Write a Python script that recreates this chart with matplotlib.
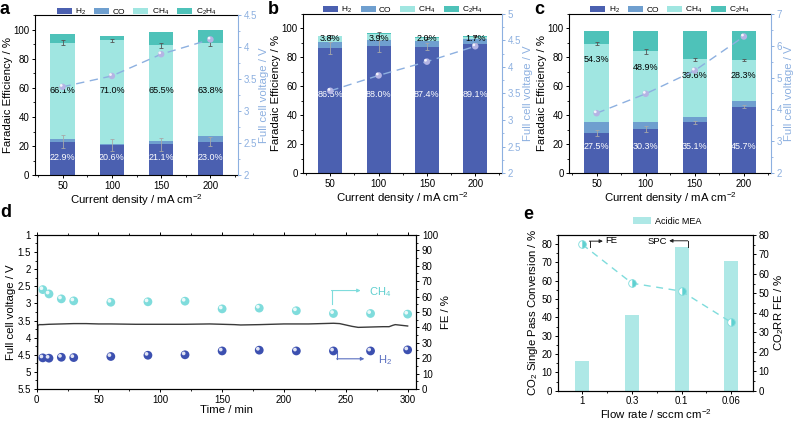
#!/usr/bin/env python
# -*- coding: utf-8 -*-

import matplotlib
matplotlib.use("Agg")
from matplotlib import pyplot as plt
from matplotlib import transforms
from matplotlib.ticker import MultipleLocator, FuncFormatter

plt.rcParams['font.family'] = ['Liberation Sans', 'DejaVu Sans']
plt.rcParams['mathtext.fontset'] = 'custom'
plt.rcParams['mathtext.rm'] = 'Liberation Sans'
plt.rcParams['mathtext.it'] = 'Liberation Sans:italic'
plt.rcParams['mathtext.bf'] = 'Liberation Sans:bold'
plt.rcParams['mathtext.default'] = 'rm'

# ---- panels a-c: FE vs current density
current = [50, 100, 150, 200]

a_h2 = [22.9, 20.6, 21.1, 23.0]
a_co = [1.9, 1.0, 2.6, 4.0]
a_ch4 = [66.1, 71.0, 65.5, 63.8]
a_c2h4 = [5.9, 3.0, 8.9, 8.7]
a_h2_err = [4.5, 4.2, 4.2, 3.0]
a_ch4_err = [1.7, 1.0, 1.5, 2.0]
a_volt = [3.38, 3.55, 3.89, 4.12]

b_h2 = [86.5, 88.0, 87.4, 89.1]
b_co = [4.2, 4.1, 4.0, 3.5]
b_ch4 = [3.8, 3.9, 2.0, 1.7]
b_c2h4 = [0.5, 0.6, 0.4, 0.3]
b_h2_err = [4.3, 4.0, 2.3, 1.0]
b_ch4_err = [1.2, 1.2, 0.8, 0.6]
b_volt = [3.55, 3.84, 4.10, 4.39]

c_h2 = [27.5, 30.3, 35.1, 45.7]
c_co = [7.7, 4.9, 3.8, 4.1]
c_ch4 = [54.3, 48.9, 39.6, 28.3]
c_c2h4 = [8.4, 13.8, 19.4, 19.8]
c_h2_err = [2.2, 2.2, 1.2, 1.0]
c_ch4_err = [1.0, 1.5, 0.8, 0.6]
c_volt = [3.88, 4.49, 5.22, 6.29]

# ---- panel d: stability
d_time = [0, 0.5, 1, 2, 5, 10, 20, 30, 40, 50, 60, 80, 100, 120, 140, 160, 165,
          180, 200, 220, 240, 245, 250, 255, 260, 270, 280, 285, 288, 290, 295, 300]
d_volt = [5.5, 5.2, 3.65, 3.62, 3.62, 3.61, 3.6, 3.59, 3.59, 3.6, 3.6, 3.61, 3.61,
          3.61, 3.6, 3.62, 3.63, 3.62, 3.6, 3.6, 3.58, 3.59, 3.63, 3.67, 3.7, 3.69,
          3.68, 3.68, 3.64, 3.62, 3.64, 3.66]
d_time_fe = [5, 10, 20, 30, 60, 90, 120, 150, 180, 210, 240, 270, 300]
d_ch4_fe = [64.5, 61.7, 58.5, 57.2, 56.3, 56.6, 57.0, 52.0, 52.5, 50.8, 49.0, 49.0, 48.6]
d_h2_fe = [20.2, 20.0, 20.6, 20.4, 21.1, 21.9, 22.2, 24.7, 25.2, 24.7, 24.7, 24.7, 25.4]

# ---- panel e: flow rate
e_flow = ['1', '0.3', '0.1', '0.06']
e_spc = [16.1, 41.3, 78.2, 70.7]
e_fe = [75.1, 55.2, 51.1, 35.1]

C_H2 = '#4b60b0'
C_CO = '#6f9fcf'
C_CH4 = '#a0e6e1'
C_C2H4 = '#4ec2b9'
C_V = '#8db0e0'
C_SPH = '#b4b4e4'

TICK = 7
LAB = 8.2

fig = plt.figure(figsize=(7.96, 4.21), dpi=100)


def style_ticks(ax):
    ax.tick_params(labelsize=TICK, length=2.5, width=0.7, pad=1.5)
    ax.tick_params(which='minor', length=1.5, width=0.6)


def spheres(ax, x, y, color, size, z=5):
    ax.scatter(x, y, s=size, color=color, edgecolors='none', zorder=z, clip_on=False)
    off = transforms.offset_copy(ax.transData, fig=fig, x=-1.0, y=1.0, units='points')
    ax.scatter(x, y, s=size * 0.18, color='white', alpha=0.85, edgecolors='none',
               transform=off, zorder=z + 0.1, clip_on=False)


def plot_fe(rect, h2, co, ch4, c2h4, h2_err, ch4_err, volt, vmax, vstep,
            ch4_lab_y, h2_lab_y, letter):
    ax = fig.add_axes(rect)
    b1 = [h + c for h, c in zip(h2, co)]
    b2 = [s + c for s, c in zip(b1, ch4)]
    w = 25
    ax.bar(current, h2, w, color=C_H2, label='H$_2$')
    ax.bar(current, co, w, bottom=h2, color=C_CO, label='CO')
    ax.bar(current, ch4, w, bottom=b1, color=C_CH4, label='CH$_4$')
    ax.bar(current, c2h4, w, bottom=b2, color=C_C2H4, label='C$_2$H$_4$')
    ax.errorbar(current, h2, yerr=h2_err, fmt='none', ecolor='#a8a8a8', elinewidth=0.6,
                capsize=1.5, capthick=0.6, zorder=4)
    ax.errorbar(current, b2, yerr=ch4_err, fmt='none', ecolor='#555555', elinewidth=0.6,
                capsize=1.5, capthick=0.6, zorder=4)
    for i, x in enumerate(current):
        ax.text(x, h2_lab_y, '%.1f%%' % h2[i], color='white', ha='center', va='center',
                fontsize=6.5, zorder=6)
        yy = ch4_lab_y[i] if isinstance(ch4_lab_y, list) else ch4_lab_y
        ax.text(x, yy, '%.1f%%' % ch4[i], color='black', ha='center', va='center',
                fontsize=6.5, zorder=6)
    ax.set_xlim(22, 228)
    ax.set_ylim(0, 110)
    ax.set_xticks(current)
    ax.xaxis.set_minor_locator(MultipleLocator(25))
    ax.yaxis.set_major_locator(MultipleLocator(20))
    ax.yaxis.set_minor_locator(MultipleLocator(10))
    style_ticks(ax)
    ax.set_xlabel('Current density / mA cm$^{-2}$', fontsize=LAB, labelpad=1)
    ax.set_ylabel('Faradaic Efficiency / %', fontsize=LAB, labelpad=0.5)
    for s in ax.spines.values():
        s.set_linewidth(0.8)
    ax.spines['right'].set_visible(False)
    ax.legend(loc='lower center', bbox_to_anchor=(0.5, 0.99), ncol=4, frameon=False,
              fontsize=6, handlelength=1.8, handleheight=0.75, handletextpad=0.4,
              columnspacing=1.0, borderpad=0, borderaxespad=0)

    ax2 = ax.twinx()
    ax2.plot(current, volt, ls=(0, (6, 4)), color=C_V, lw=1.0, zorder=3)
    spheres(ax2, current, volt, C_SPH, 22)
    ax2.set_ylim(2, vmax)
    ax2.yaxis.set_major_locator(MultipleLocator(vstep))
    ax2.yaxis.set_minor_locator(MultipleLocator(vstep / 2))
    for k in ['left', 'top', 'bottom']:
        ax2.spines[k].set_visible(False)
    ax2.spines['right'].set_color(C_V)
    ax2.spines['right'].set_linewidth(0.8)
    ax2.tick_params(axis='y', colors=C_V, labelsize=TICK, length=2.5, width=0.7, pad=1.5)
    ax2.tick_params(axis='y', which='minor', colors=C_V, length=1.5, width=0.6)
    ax2.yaxis.set_major_formatter(FuncFormatter(lambda v, p: '%g' % v))
    ax2.set_ylabel('Full cell voltage / V', fontsize=LAB, color=C_V, labelpad=1.5)
    fig.text(rect[0] - 0.044, 0.998, letter, fontsize=13, fontweight='bold', va='top')
    return ax


plot_fe([0.044, 0.584, 0.255, 0.380], a_h2, a_co, a_ch4, a_c2h4, a_h2_err, a_ch4_err,
        a_volt, 4.5, 0.5, 58, 12, 'a')
plot_fe([0.381, 0.589, 0.250, 0.378], b_h2, b_co, b_ch4, b_c2h4, b_h2_err, b_ch4_err,
        b_volt, 5, 0.5, 93, 54, 'b')
c_ch4_top = [h + c + m for h, c, m in zip(c_h2, c_co, c_ch4)]
plot_fe([0.715, 0.589, 0.254, 0.378], c_h2, c_co, c_ch4, c_c2h4, c_h2_err, c_ch4_err,
        c_volt, 7, 1, [t - 11 for t in c_ch4_top], 18.5, 'c')

# ---- panel d
axd = fig.add_axes([0.046, 0.076, 0.477, 0.366])
axd.plot(d_time, d_volt, color='#3a3a3a', lw=1.0)
axd.set_xlim(0, 307)
axd.set_ylim(5.5, 1)
axd.xaxis.set_major_locator(MultipleLocator(50))
axd.xaxis.set_minor_locator(MultipleLocator(25))
axd.yaxis.set_major_locator(MultipleLocator(0.5))
axd.yaxis.set_minor_locator(MultipleLocator(0.25))
axd.yaxis.set_major_formatter(FuncFormatter(lambda v, p: '%g' % v))
style_ticks(axd)
axd.tick_params(axis='x', top=True, which='both')
axd.set_xlabel('Time / min', fontsize=LAB, labelpad=0.5)
axd.set_ylabel('Full cell voltage / V', fontsize=LAB, labelpad=1)
for s in axd.spines.values():
    s.set_linewidth(0.8)

axd2 = axd.twinx()
spheres(axd2, d_time_fe, d_ch4_fe, '#7fdcdc', 40)
spheres(axd2, d_time_fe, d_h2_fe, '#3c50b0', 40)
axd2.set_ylim(0, 100)
axd2.yaxis.set_major_locator(MultipleLocator(10))
axd2.yaxis.set_minor_locator(MultipleLocator(5))
style_ticks(axd2)
axd2.set_ylabel('FE / %', fontsize=LAB, labelpad=2)
axd2.plot([238.8, 238.8], [55.3, 63.9], color='#7fdcdc', lw=0.8)
axd2.annotate('', xy=(262, 63.9), xytext=(238.4, 63.9),
              arrowprops=dict(arrowstyle='-|>', color='#7fdcdc', lw=0.8, mutation_scale=5,
                              shrinkA=0, shrinkB=0))
axd2.text(269, 62.6, 'CH$_4$', color='#5fcfcf', fontsize=8, va='center')
axd2.plot([243, 243], [24.7, 19.6], color='#5a6fc0', lw=0.8)
axd2.annotate('', xy=(265, 19.6), xytext=(242.6, 19.6),
              arrowprops=dict(arrowstyle='-|>', color='#5a6fc0', lw=0.8, mutation_scale=5,
                              shrinkA=0, shrinkB=0))
axd2.text(276, 18.8, 'H$_2$', color='#5a6fc0', fontsize=8, va='center')
fig.text(0.0, 0.515, 'd', fontsize=13, fontweight='bold', va='top')

# ---- panel e
axe = fig.add_axes([0.701, 0.072, 0.245, 0.370])
xe = list(range(len(e_flow)))
axe.bar(xe, e_spc, 0.28, color='#aee8e6', label='Acidic MEA')
axe.set_xlim(-0.49, 3.44)
axe.set_ylim(0, 85)
axe.set_xticks(xe)
axe.set_xticklabels(e_flow)
axe.xaxis.set_minor_locator(MultipleLocator(0.5))
axe.yaxis.set_major_locator(MultipleLocator(10))
axe.yaxis.set_minor_locator(MultipleLocator(5))
style_ticks(axe)
axe.set_xlabel('Flow rate / sccm cm$^{-2}$', fontsize=LAB, labelpad=0.5)
axe.set_ylabel('CO$_2$ Single Pass Conversion / %', fontsize=LAB, labelpad=1)
for s in axe.spines.values():
    s.set_linewidth(0.8)
axe.legend(loc='lower center', bbox_to_anchor=(0.56, 1.03), frameon=False, fontsize=6.5,
           handlelength=2.0, handleheight=0.8, handletextpad=0.4, borderpad=0)
axe.plot([2.12, 2.12], [78.2, 81.8], color='#222222', lw=0.7)
axe.annotate('', xy=(1.75, 81.8), xytext=(2.125, 81.8),
             arrowprops=dict(arrowstyle='-|>', color='#222222', lw=0.7, mutation_scale=5,
                             shrinkA=0, shrinkB=0))
axe.text(1.71, 81.6, 'SPC', fontsize=6.8, ha='right', va='center')

axe2 = axe.twinx()
axe2.plot(xe, e_fe, ls=(0, (5, 4)), color='#7fdcdc', lw=1.0)
axe2.plot(xe, e_fe, 'o', ms=5.5, fillstyle='right', color='#5fd0d0',
          markerfacecoloralt='white', markeredgecolor='#7fdcdc', markeredgewidth=0.6)
axe2.set_ylim(0, 80)
axe2.yaxis.set_major_locator(MultipleLocator(10))
axe2.yaxis.set_minor_locator(MultipleLocator(5))
style_ticks(axe2)
axe2.set_ylabel('CO$_2$RR FE / %', fontsize=LAB, labelpad=2)
axe2.plot([0.147, 0.147], [73.8, 76.8], color='#222222', lw=0.7)
axe2.annotate('', xy=(0.415, 76.8), xytext=(0.142, 76.8),
              arrowprops=dict(arrowstyle='-|>', color='#222222', lw=0.7, mutation_scale=5,
                              shrinkA=0, shrinkB=0))
axe2.text(0.47, 76.9, 'FE', fontsize=6.8, va='center')
fig.text(0.657, 0.51, 'e', fontsize=13, fontweight='bold', va='top')

plt.savefig('out.png', dpi=100)
